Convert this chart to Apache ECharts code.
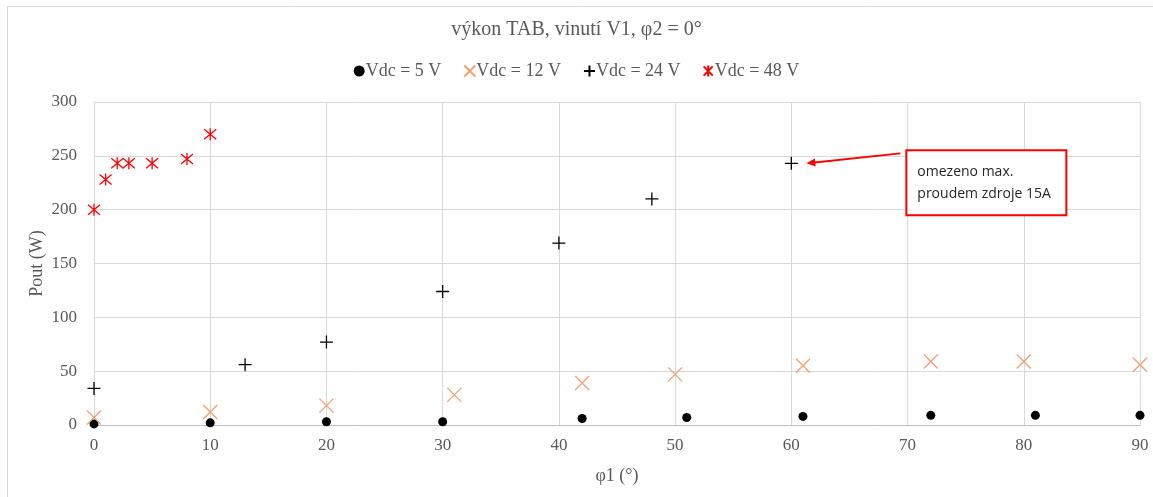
<!DOCTYPE html>
<html>
<head>
<meta charset="utf-8">
<script src="https://cdn.jsdelivr.net/npm/echarts@6/dist/echarts.min.js"></script>
<style>
  html, body { margin: 0; padding: 0; background: #fff; }
  #chart { width: 1153px; height: 497px; }
</style>
</head>
<body>
<div id="chart"></div>
<script>
  // výkon TAB, vinutí V1 - naměřené body [phi1, Pout]
  var vdc5 = [[0, 1], [10, 2], [20, 3], [30, 3], [42, 6], [51, 7], [61, 8], [72, 9], [81, 9], [90, 9]];
  var vdc12 = [[0, 7], [10, 12], [20, 18], [31, 28], [42, 39], [50, 47], [61, 55], [72, 59], [80, 59], [90, 56]];
  var vdc24 = [[0, 34], [13, 56], [20, 77], [30, 124], [40, 169], [48, 210], [60, 243]];
  var vdc48 = [[0, 200], [1, 228], [2, 243], [3, 243], [5, 243], [8, 247], [10, 270]];
  var limitPoint = [60, 243];
  var noteLines = ['omezeno max.', 'proudem zdroje 15A'];

  var serif = '"Liberation Serif", "DejaVu Serif", serif';
  var txt = '#595959';

  var chart = echarts.init(document.getElementById('chart'));

  chart.setOption({
    animation: false,
    backgroundColor: '#fff',
    title: {
      text: 'výkon TAB, vinutí V1, φ2 = 0°',
      left: 'center',
      top: 15,
      textStyle: { fontFamily: serif, fontSize: 20, fontWeight: 'normal', color: txt }
    },
    legend: {
      top: 57,
      left: 'center',
      itemGap: 22,
      itemWidth: 11,
      itemHeight: 11,
      textStyle: { fontFamily: serif, fontSize: 18, color: txt, padding: [0, 0, 0, -4] },
      data: ['Vdc = 5 V', 'Vdc = 12 V', 'Vdc = 24 V', 'Vdc = 48 V']
    },
    grid: { left: 94, right: 13, top: 102, bottom: 72, containLabel: false },
    xAxis: {
      type: 'value',
      min: 0, max: 90, interval: 10,
      name: 'φ1 (°)',
      nameLocation: 'middle',
      nameGap: 42,
      nameMoveOverlap: false,
      nameTextStyle: { fontFamily: serif, fontSize: 18, color: txt },
      axisLine: { show: true, lineStyle: { color: '#bfbfbf' } },
      axisTick: { show: false },
      axisLabel: { fontFamily: serif, fontSize: 17, color: txt, margin: 12 },
      splitLine: { show: true, lineStyle: { color: '#d9d9d9' } }
    },
    yAxis: {
      type: 'value',
      min: 0, max: 300, interval: 50,
      name: 'Pout (W)',
      nameLocation: 'middle',
      nameGap: 48,
      nameMoveOverlap: false,
      nameTextStyle: { fontFamily: serif, fontSize: 18, color: txt },
      axisLine: { show: false },
      axisTick: { show: false },
      axisLabel: { fontFamily: serif, fontSize: 17, color: txt, margin: 17 },
      splitLine: { show: true, lineStyle: { color: '#d9d9d9' } }
    },
    series: [
      {
        name: 'Vdc = 5 V', type: 'scatter', data: vdc5,
        symbol: 'circle', symbolSize: 9,
        itemStyle: { color: '#000', opacity: 1 }
      },
      {
        name: 'Vdc = 12 V', type: 'scatter', data: vdc12,
        symbol: 'path://M0 0L10 10M10 0L0 10', symbolSize: 14,
        itemStyle: { color: 'transparent', borderColor: '#f4a072', borderWidth: 1.3, opacity: 1 }
      },
      {
        name: 'Vdc = 24 V', type: 'scatter', data: vdc24,
        symbol: 'path://M5 0L5 10M0 5L10 5', symbolSize: 13,
        itemStyle: { color: 'transparent', borderColor: '#000', borderWidth: 1.3, opacity: 1 }
      },
      {
        name: 'Vdc = 48 V', type: 'scatter', data: vdc48,
        symbol: 'path://M0 0L10 10M10 0L0 10M5 -1L5 11', symbolSize: 12,
        itemStyle: { color: 'transparent', borderColor: '#ff0000', borderWidth: 1.3, opacity: 1 }
      }
    ]
  });

  // poznámka se šipkou k poslednímu bodu Vdc = 24 V
  var tip = chart.convertToPixel({ gridIndex: 0 }, limitPoint);
  var ax = tip[0] + 15, ay = tip[1];
  var tx = tip[0] + 109, ty = tip[1] - 10;
  var ang = Math.atan2(ty - ay, tx - ax);
  var hl = 9, hw = 4;
  var head = [
    [ax, ay],
    [ax + hl * Math.cos(ang) - hw * Math.sin(ang), ay + hl * Math.sin(ang) + hw * Math.cos(ang)],
    [ax + hl * Math.cos(ang) + hw * Math.sin(ang), ay + hl * Math.sin(ang) - hw * Math.cos(ang)]
  ];
  var bx = tip[0] + 115, by = tip[1] - 13;

  chart.setOption({
    graphic: [
      {
        type: 'rect', silent: true, z: -10,
        shape: { x: 7.5, y: 6.5, width: 1160, height: 500 },
        style: { fill: 'transparent', stroke: '#d9d9d9', lineWidth: 1 }
      },
      {
        type: 'line', silent: true, z: 100,
        shape: { x1: tx, y1: ty, x2: ax + 6 * Math.cos(ang), y2: ay + 6 * Math.sin(ang) },
        style: { stroke: '#ff0000', lineWidth: 2 }
      },
      {
        type: 'polygon', silent: true, z: 100,
        shape: { points: head },
        style: { fill: '#ff0000' }
      },
      {
        type: 'rect', silent: true, z: 100,
        shape: { x: bx, y: by, width: 160, height: 65 },
        style: { fill: '#fff', stroke: '#ff0000', lineWidth: 2 }
      },
      {
        type: 'text', silent: true, z: 101,
        left: bx + 11, top: by + 11,
        style: {
          text: noteLines.join('\n'),
          font: '14px "Open Sans", "Liberation Sans", sans-serif',
          fill: '#262626',
          lineHeight: 22
        }
      }
    ]
  });
</script>
</body>
</html>
